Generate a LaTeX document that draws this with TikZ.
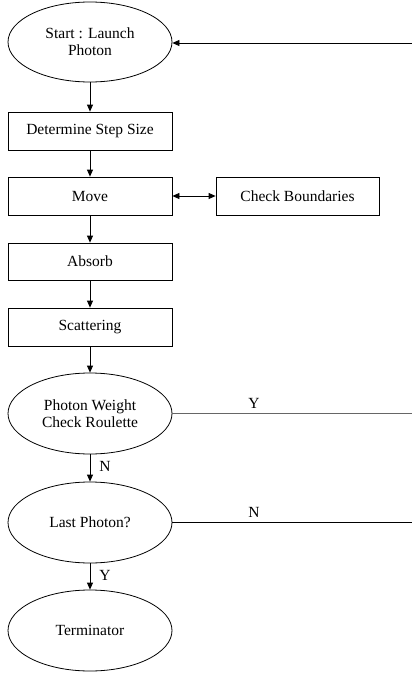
\documentclass[tikz,border=0pt]{standalone}
\usepackage{fontspec}
\setmainfont{Liberation Serif}
\usetikzlibrary{shapes.geometric,arrows.meta}
\begin{document}
\begin{tikzpicture}[x=1pt,y=-1pt,
  every node/.style={font=\fontsize{15.5}{17}\selectfont},
  boxnode/.style={draw,line width=0.8pt,minimum width=164pt,minimum height=38pt,inner sep=0pt},
  ovalnode/.style={draw,ellipse,line width=0.8pt,minimum width=164pt,minimum height=80pt,inner sep=0pt,align=center},
  arr/.style={line width=0.8pt,-{Triangle[length=7pt,width=6pt]}},
  plain/.style={line width=0.8pt},
  lbl/.style={inner sep=1pt,text=black}]
\useasboundingbox (0,0) rectangle (412,677);
\node[ovalnode] (start) at (90,42) {Start : Launch\\Photon};
\node[boxnode] (dss) at (90,131) {Determine Step Size};
\node[boxnode] (move) at (90,196) {Move};
\node[boxnode,minimum width=163pt] (cb) at (297.5,196) {Check Boundaries};
\node[boxnode,minimum height=37pt] (abs) at (90,261.5) {Absorb};
\node[boxnode] (sca) at (90,327) {Scattering};
\node[ovalnode,minimum height=81pt] (pw) at (90,413.5) {Photon Weight\\Check Roulette};
\node[ovalnode,minimum height=81pt] (lp) at (90,522.5) {Last Photon?};
\node[ovalnode,minimum height=81pt] (term) at (90,630.5) {Terminator};
\coordinate (rin) at (412,43);
\coordinate (ry) at (412,413.5);
\coordinate (rn) at (412,522.5);
\draw[arr] (rin) -- (start.east |- rin);
\draw[arr] (start) -- (dss);
\draw[arr] (dss) -- (move);
\draw[line width=0.8pt,{Triangle[length=7pt,width=6pt]}-{Triangle[length=7pt,width=6pt]}] (move) -- (cb);
\draw[arr] (move) -- (abs);
\draw[arr] (abs) -- (sca);
\draw[arr] (sca) -- (pw);
\draw[arr] (pw) -- node[lbl,right=8pt,pos=0.45] {N} (lp);
\draw[arr] (lp) -- node[lbl,right=8pt,pos=0.45] {Y} (term);
\draw[plain,black!60,line width=1.1pt] (pw.east) -- node[lbl,above=3pt,pos=0.34] {Y} (ry);
\draw[plain] (lp.east) -- node[lbl,above=4pt,pos=0.34] {N} (rn);
\end{tikzpicture}
\end{document}
